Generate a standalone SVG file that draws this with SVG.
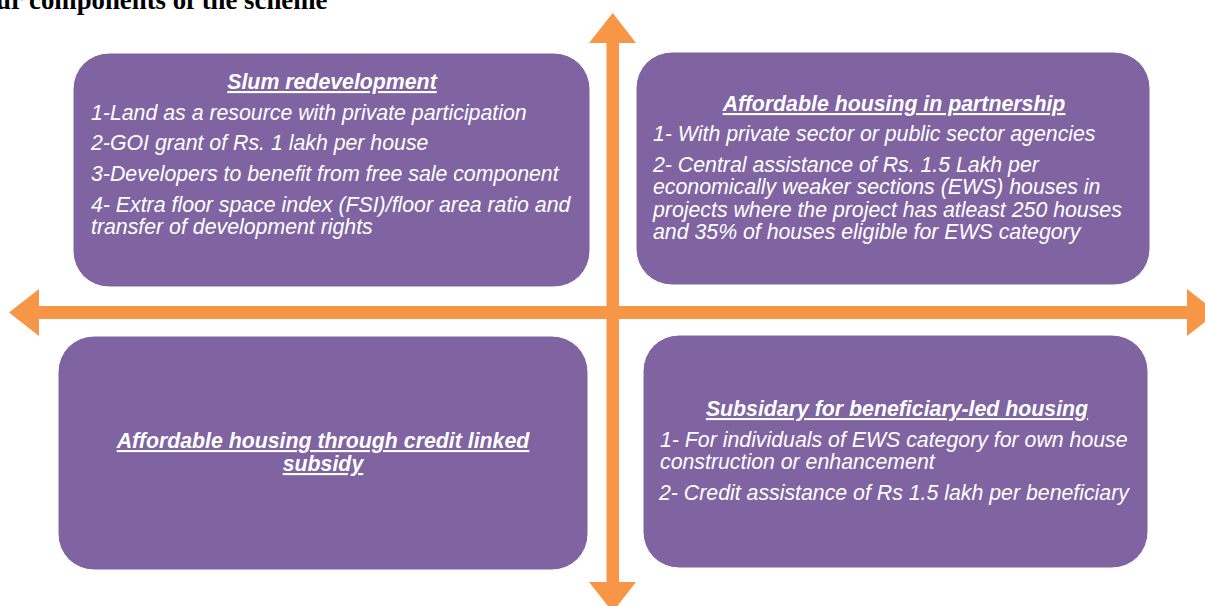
<svg xmlns="http://www.w3.org/2000/svg" width="1205" height="606" viewBox="0 0 1205 606">
<style>
.box{fill:#8064A2;stroke:#ffffff;stroke-width:1}
.t{font-family:"Liberation Sans",Arial,sans-serif;font-size:21.3px;font-style:italic;fill:#ffffff}
.h{font-weight:bold;text-decoration:underline}
.arrow{fill:#F79646}
</style>
<rect width="1205" height="606" fill="#ffffff"/>
<text x="-4" y="9" font-family="'Liberation Serif','Times New Roman',serif" font-size="26.8" font-weight="bold" fill="#000000">ur components of the scheme</text>
<g id="connectors">
<polygon class="arrow" points="606.5,43 589,43 612.7,13 636,43 619,43 619,582 636,582 612.7,612 589,582 606.5,582"/>
<polygon class="arrow" points="39,306 39,289 9,312.5 39,336 39,319 1187,319 1187,336 1217,312.5 1187,289 1187,306"/>
</g>
<g id="node-slum">
<rect class="box" x="73" y="53" width="517" height="234" rx="36" ry="36"/>
<text class="t h" x="332" y="89" text-anchor="middle">Slum redevelopment</text>
<text class="t" x="91" y="120">1-Land as a resource with private participation</text>
<text class="t" x="91" y="150">2-GOI grant of Rs. 1 lakh per house</text>
<text class="t" x="91" y="181">3-Developers to benefit from free sale component</text>
<text class="t" x="91" y="212">4- Extra floor space index (FSI)/floor area ratio and</text>
<text class="t" x="91" y="234">transfer of development rights</text>
</g>
<g id="node-partnership">
<rect class="box" x="636" y="52" width="514" height="233" rx="36" ry="36"/>
<text class="t h" x="894" y="111" text-anchor="middle">Affordable housing in partnership</text>
<text class="t" x="653" y="141">1- With private sector or public sector agencies</text>
<text class="t" x="653" y="172">2- Central assistance of Rs. 1.5 Lakh per</text>
<text class="t" x="653" y="194">economically weaker sections (EWS) houses in</text>
<text class="t" x="653" y="217">projects where the project has atleast 250 houses</text>
<text class="t" x="653" y="239">and 35% of houses eligible for EWS category</text>
</g>
<g id="node-credit">
<rect class="box" x="58" y="336" width="530" height="234" rx="36" ry="36"/>
<text class="t h" x="323" y="448" text-anchor="middle">Affordable housing through credit linked</text>
<text class="t h" x="323" y="471" text-anchor="middle">subsidy</text>
</g>
<g id="node-beneficiary">
<rect class="box" x="643" y="335" width="505" height="233" rx="36" ry="36"/>
<text class="t h" x="897" y="416" text-anchor="middle">Subsidary for beneficiary-led housing</text>
<text class="t" x="660" y="447">1- For individuals of EWS category for own house</text>
<text class="t" x="660" y="469">construction or enhancement</text>
<text class="t" x="659" y="500">2- Credit assistance of Rs 1.5 lakh per beneficiary</text>
</g>
</svg>
